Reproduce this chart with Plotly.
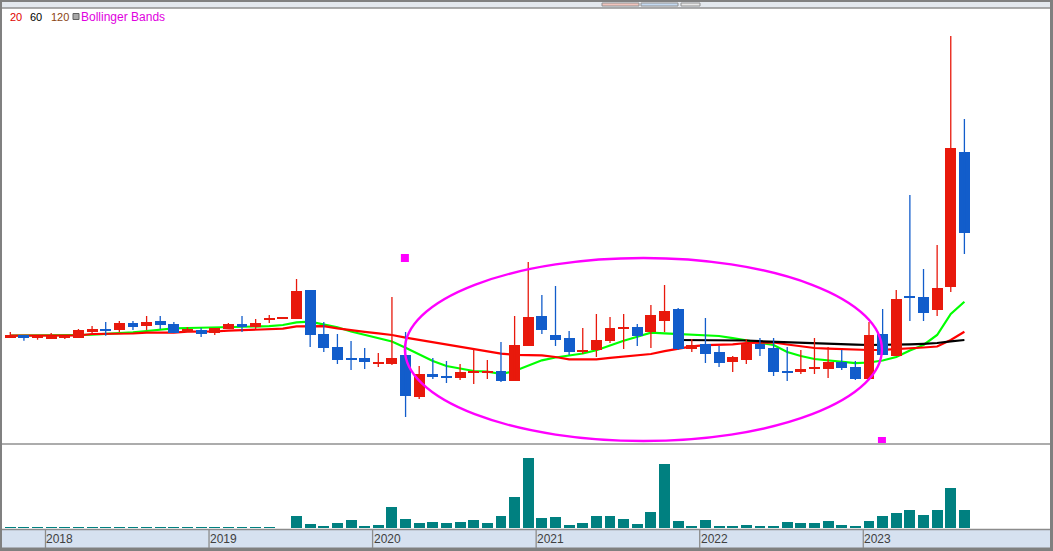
"""Monthly candle chart with moving averages, volume and a drawn ellipse."""

import plotly.graph_objects as go

W, H = 1053, 551

# monthly candles, Oct 2017 .. Aug 2023
OPEN = [1125, 1150, 1123, 1113, 1123, 1123, 1180, 1200, 1200, 1270,
        1240, 1290, 1260, 1180, 1200, 1170, 1210, 1260, 1230, 1300,
        1317, 1310, 1600, 1160, 1030, 920, 920, 860, 860, 950,
        530, 760, 740, 720, 770, 770, 790, 690, 1040, 1340,
        1150, 1120, 980, 1000, 1090, 1210, 1230, 1180, 1290, 1410,
        1010, 1060, 980, 880, 900, 1060, 1020, 790, 780, 810,
        810, 880, 830, 710, 1160, 940, 1540, 1530, 1400, 1630,
        2980]
HIGH = [1180, 1150, 1143, 1170, 1143, 1210, 1240, 1280, 1290, 1290,
        1340, 1340, 1280, 1230, 1220, 1220, 1270, 1340, 1310, 1350,
        1317, 1710, 1600, 1280, 1160, 1090, 1020, 970, 1530, 1180,
        840, 920, 890, 860, 1010, 900, 1080, 1340, 1880, 1550,
        1640, 1190, 1220, 1360, 1330, 1360, 1260, 1450, 1650, 1420,
        1110, 1320, 1040, 940, 1110, 1120, 1120, 1030, 1000, 1120,
        1030, 1000, 890, 1280, 1410, 1600, 2550, 1810, 2050, 4140,
        3310]
LOW = [1120, 1093, 1103, 1113, 1110, 1123, 1160, 1143, 1180, 1200,
       1200, 1210, 1170, 1180, 1130, 1150, 1210, 1180, 1210, 1270,
       1317, 1310, 1030, 980, 860, 800, 810, 830, 850, 330,
       510, 710, 670, 700, 660, 710, 680, 690, 1040, 1160,
       1040, 950, 960, 930, 1070, 1010, 1040, 1020, 1180, 1000,
       980, 870, 830, 780, 860, 940, 740, 690, 760, 760,
       720, 800, 700, 710, 950, 940, 1290, 1290, 1340, 1580,
       1960]
CLOSE = [1150, 1123, 1143, 1143, 1143, 1200, 1210, 1190, 1270, 1230,
         1280, 1250, 1170, 1210, 1160, 1220, 1260, 1230, 1270, 1320,
         1317, 1590, 1150, 1020, 900, 900, 880, 880, 920, 540,
         760, 730, 720, 780, 790, 790, 690, 1050, 1330, 1200,
         1100, 980, 990, 1100, 1220, 1230, 1140, 1350, 1390, 1010,
         1050, 960, 870, 930, 1060, 1010, 780, 770, 810, 820,
         880, 820, 710, 1150, 950, 1510, 1520, 1370, 1620, 3020,
         2170]
VOLUME = [3000] * 20 + [
    0, 36000, 12000, 6000, 16000, 24000, 6000, 9000, 63000, 27000,
    15000, 18000, 15000, 18000, 24000, 15000, 36000, 93000, 210000, 30000,
    33000, 9000, 15000, 36000, 36000, 27000, 12000, 48000, 192000, 21000,
    6000, 24000, 6000, 6000, 9000, 6000, 6000, 18000, 15000, 15000,
    21000, 9000, 6000, 21000, 36000, 45000, 54000, 39000, 54000, 120000,
    54000]

MA_GREEN = [1143, 1143, 1145, 1147, 1148, 1150, 1153, 1160, 1170, 1177,
            1190, 1207, 1217, 1220, 1223, 1225, 1230, 1233, 1233, 1238,
            1250, 1277, 1283, 1255, 1227, 1185, 1150, 1120, 1085, 1023,
            960, 890, 840, 815, 790, 783, 760, 790, 840, 897,
            925, 947, 965, 997, 1047, 1093, 1133, 1173, 1167, 1160,
            1154, 1148, 1140, 1118, 1097, 1075, 1050, 980, 940, 910,
            895, 883, 868, 875, 895, 930, 995, 1050, 1150, 1360,
            1483]
MA_RED = [1143, 1143, 1143, 1143, 1143, 1145, 1160, 1160, 1160, 1165,
          1173, 1173, 1173, 1183, 1183, 1185, 1193, 1197, 1203, 1203,
          1213, 1237, 1240, 1238, 1217, 1197, 1182, 1167, 1150, 1123,
          1100, 1080, 1060, 1036, 1010, 990, 963, 952, 950, 947,
          930, 907, 907, 907, 922, 937, 948, 960, 988, 1015,
          1037, 1048, 1052, 1057, 1070, 1075, 1075, 1055, 1035, 1020,
          1013, 1008, 1002, 1000, 1002, 1008, 1015, 1025, 1035, 1100,
          1183]
MA_BLACK = [None] * 49 + [
    1100, 1100, 1100, 1100, 1100, 1095, 1088, 1083, 1073, 1067,
    1062, 1058, 1056, 1053, 1050, 1050, 1050, 1057, 1062, 1070,
    1087, 1100]

YEAR_LABELS = ["2018", "2019", "2020", "2021", "2022", "2023"]
YEAR_FIRST_CANDLE = [3, 15, 27, 39, 51, 63]

UP = "#E8190C"
DOWN = "#125DCB"
VOL_COLOR = "#008080"
GRAY = "#8C8C8C"
MAGENTA = "#FF00FF"

# ellipse drawn on the chart (candle index / price of its bounding box)
ELLIPSE = dict(x0=28.95, x1=63.95, y0=90, y1=1920)


def px_x(x):
    return x / W


def px_y(y):
    return 1 - y / H


idx = list(range(len(OPEN)))
up = [c >= o for o, c in zip(OPEN, CLOSE)]
colors = [UP if u else DOWN for u in up]
body_base = [min(o, c) for o, c in zip(OPEN, CLOSE)]
body_h = [max(abs(c - o), 14) for o, c in zip(OPEN, CLOSE)]

fig = go.Figure()

# moving averages sit on the base subplot, candles on an overlay above them
fig.add_trace(go.Scatter(x=idx, y=MA_GREEN, mode="lines",
                         line=dict(color="#00FF00", width=2.2)))
fig.add_trace(go.Scatter(x=idx, y=MA_RED, mode="lines",
                         line=dict(color="#FF0000", width=2.2)))
fig.add_trace(go.Scatter(x=idx, y=MA_BLACK, mode="lines",
                         line=dict(color="#000000", width=2.2)))

for want_up, col in ((True, UP), (False, DOWN)):
    wx, wy = [], []
    for i in idx:
        if up[i] == want_up:
            wx += [i, i, None]
            wy += [LOW[i], HIGH[i], None]
    fig.add_trace(go.Scatter(x=wx, y=wy, mode="lines", yaxis="y3",
                             line=dict(color=col, width=1.3)))

fig.add_trace(go.Bar(x=idx, y=body_h, base=body_base, width=0.8, yaxis="y3",
                     marker=dict(color=colors, line=dict(width=0))))

fig.add_trace(go.Bar(x=idx, y=VOLUME, width=0.8, xaxis="x2", yaxis="y2",
                     marker=dict(color=VOL_COLOR, line=dict(width=0))))

x_range = [-0.609, 76.28]
price_range = [70, 4410]
hidden = dict(showgrid=False, zeroline=False, showticklabels=False,
              ticks="", showline=False, fixedrange=True)

shapes = [
    # top strip
    dict(type="rect", xref="paper", yref="paper", x0=0, x1=1,
         y0=px_y(8), y1=1, fillcolor="#E3E8EE", line=dict(width=0), layer="below"),
    dict(type="rect", xref="paper", yref="paper", x0=0, x1=1,
         y0=px_y(2), y1=1, fillcolor="#808080", line=dict(width=0)),
    dict(type="line", xref="paper", yref="paper", x0=0, x1=1,
         y0=px_y(8), y1=px_y(8), line=dict(color="#909090", width=1.5)),
    dict(type="rect", xref="paper", yref="paper", x0=px_x(602), x1=px_x(639),
         y0=px_y(6), y1=px_y(3), fillcolor="#F2C4BC", line=dict(color="#909090", width=1)),
    dict(type="rect", xref="paper", yref="paper", x0=px_x(641), x1=px_x(678),
         y0=px_y(6), y1=px_y(3), fillcolor="#C4DAF2", line=dict(color="#909090", width=1)),
    dict(type="rect", xref="paper", yref="paper", x0=px_x(681), x1=px_x(700),
         y0=px_y(6), y1=px_y(3), fillcolor="#E8E8E8", line=dict(color="#909090", width=1)),
    # left / right borders
    dict(type="rect", xref="paper", yref="paper", x0=0, x1=px_x(2),
         y0=0, y1=px_y(2), fillcolor="#808080", line=dict(width=0)),
    dict(type="rect", xref="paper", yref="paper", x0=px_x(1050), x1=1,
         y0=0, y1=1, fillcolor="#808080", line=dict(width=0)),
    # price / volume separator
    dict(type="line", xref="paper", yref="paper", x0=px_x(2), x1=px_x(1050),
         y0=px_y(444), y1=px_y(444), line=dict(color="#909090", width=1.5)),
    # date band
    dict(type="rect", xref="paper", yref="paper", x0=px_x(2), x1=px_x(1050),
         y0=px_y(548), y1=px_y(529), fillcolor="#D6E1F0",
         line=dict(width=0), layer="below"),
    dict(type="line", xref="paper", yref="paper", x0=px_x(2), x1=px_x(1050),
         y0=px_y(529.5), y1=px_y(529.5), line=dict(color=GRAY, width=1.5)),
    dict(type="rect", xref="paper", yref="paper", x0=0, x1=1,
         y0=0, y1=px_y(547.5), fillcolor="#808080", line=dict(width=0)),
    # ellipse and its handles
    dict(type="circle", xref="x", yref="y", layer="above",
         line=dict(color=MAGENTA, width=2.4), **ELLIPSE),
    dict(type="rect", xref="x", yref="y", xsizemode="pixel", ysizemode="pixel",
         xanchor=ELLIPSE["x0"], yanchor=ELLIPSE["y1"], x0=-4, x1=4, y0=-4, y1=4,
         fillcolor=MAGENTA, line=dict(width=0)),
    dict(type="rect", xref="x", yref="y", xsizemode="pixel", ysizemode="pixel",
         xanchor=ELLIPSE["x1"], yanchor=ELLIPSE["y0"], x0=-4, x1=4, y0=-2, y1=4,
         fillcolor=MAGENTA, line=dict(width=0)),
    # legend swatch
    dict(type="rect", xref="paper", yref="paper", x0=px_x(73), x1=px_x(79),
         y0=px_y(19.5), y1=px_y(13.5), fillcolor="#A8A8A8",
         line=dict(color="#606060", width=1)),
]

annotations = []
for text, x, col, size in (("20", 9, "#E00000", 11), ("60", 29, "#000000", 11),
                           ("120", 50, "#8B4513", 11),
                           ("Bollinger Bands", 80, "#E000E0", 12)):
    annotations.append(dict(text=text, xref="paper", yref="paper",
                            x=px_x(x), y=px_y(17), xanchor="left", yanchor="middle",
                            showarrow=False, borderpad=0,
                            font=dict(family="Liberation Sans", size=size, color=col)))

for label, first in zip(YEAR_LABELS, YEAR_FIRST_CANDLE):
    shapes.append(dict(type="line", xref="x", yref="paper",
                       x0=first - 0.42, x1=first - 0.42,
                       y0=px_y(548), y1=px_y(530),
                       line=dict(color=GRAY, width=1.3)))
    annotations.append(dict(text=label, xref="x", yref="paper", x=first - 0.42,
                            y=px_y(538.5), xanchor="left", yanchor="middle",
                            xshift=0, showarrow=False, borderpad=0,
                            font=dict(family="Liberation Sans", size=12, color="#404040")))

fig.update_layout(
    width=W, height=H,
    margin=dict(l=0, r=0, t=0, b=0),
    paper_bgcolor="white", plot_bgcolor="white",
    showlegend=False, hovermode=False, bargap=0,
    xaxis=dict(domain=[px_x(2), px_x(1050)], range=x_range, anchor="y", **hidden),
    xaxis2=dict(domain=[px_x(2), px_x(1050)], range=x_range, anchor="y2",
                matches="x", **hidden),
    yaxis=dict(domain=[px_y(443), px_y(9)], range=price_range, anchor="x", **hidden),
    yaxis3=dict(range=price_range, overlaying="y", anchor="x", **hidden),
    yaxis2=dict(domain=[px_y(528), px_y(445)], range=[0, 249000], anchor="x2", **hidden),
    shapes=shapes,
    annotations=annotations,
)

# drop the page's default body margin so the chart sits at the window corner
fig.write_html("out.html", config={"displayModeBar": False},
               post_script="document.body.style.margin='0';"
                           "document.body.style.overflow='hidden';")
